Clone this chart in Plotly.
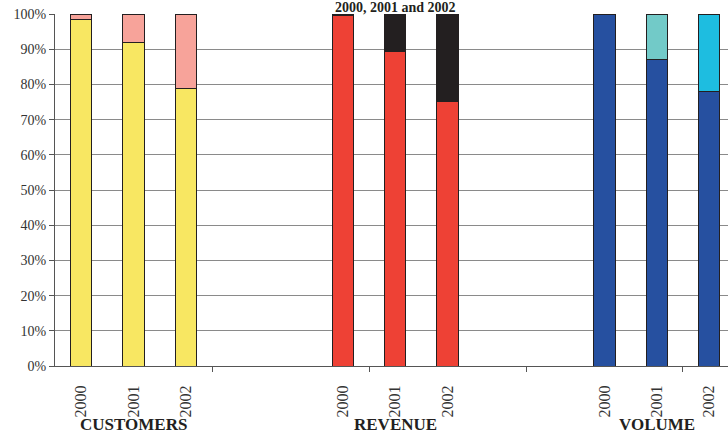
import plotly.graph_objects as go

# Share of each measure, per year (bottom segment of each stacked bar, in %)
years = ["2000", "2001", "2002"]
groups = ["CUSTOMERS", "REVENUE", "VOLUME"]
customers_share = [98.5, 92.0, 78.7]
revenue_share = [99.5, 89.3, 75.2]
volume_share = [100.0, 87.2, 78.1]

base_colors = {"CUSTOMERS": "#F8E762", "REVENUE": "#EE4135", "VOLUME": "#2650A0"}
rest_colors = {
    "CUSTOMERS": ["#F7A39A", "#F7A39A", "#F7A39A"],
    "REVENUE": ["#231F20", "#231F20", "#231F20"],
    "VOLUME": ["#72CAC8", "#72CAC8", "#1EBDE0"],
}

serif = "Liberation Serif, Times New Roman, serif"
shares = {"CUSTOMERS": customers_share, "REVENUE": revenue_share, "VOLUME": volume_share}

# Each group takes 3 slots, followed by 2 empty slots
xs, bottoms, tops, cb, ct, labels = [], [], [], [], [], []
for g, name in enumerate(groups):
    for i, yr in enumerate(years):
        xs.append(g * 5 + i)
        bottoms.append(shares[name][i])
        tops.append(round(100 - shares[name][i], 2))
        cb.append(base_colors[name])
        ct.append(rest_colors[name][i])
        labels.append(yr)

line = dict(color="#231F20", width=1)
fig = go.Figure()
fig.add_trace(go.Bar(x=xs, y=bottoms, width=0.41, marker=dict(color=cb, line=line)))
fig.add_trace(go.Bar(x=xs, y=tops, width=0.41, marker=dict(color=ct, line=line)))

fig.update_layout(
    barmode="stack",
    showlegend=False,
    width=728,
    height=436,
    margin=dict(l=55, r=0, t=14, b=70),
    plot_bgcolor="white",
    paper_bgcolor="white",
    font=dict(family=serif, color="#333333"),
)
fig.update_xaxes(
    range=[-0.5, 12.36],
    tickmode="array",
    tickvals=xs,
    ticktext=labels,
    tickangle=-90,
    ticks="",
    ticklabelstandoff=12,
    tickfont=dict(size=16, family=serif, color="#333333"),
    showgrid=False,
    showline=True,
    linecolor="#555555",
    linewidth=1,
    zeroline=False,
    minor=dict(tickmode="array", tickvals=[2.5, 5.5, 8.5, 11.5], ticks="outside",
               ticklen=5, tickcolor="#555555", showgrid=False),
)
fig.update_yaxes(
    range=[0, 100],
    tickmode="array",
    tickvals=list(range(0, 101, 10)),
    ticktext=[f"{v}%" for v in range(0, 101, 10)],
    ticks="outside",
    ticklen=5,
    tickcolor="#555555",
    tickfont=dict(size=14, family=serif, color="#333333"),
    showgrid=True,
    gridcolor="#8A8A8A",
    gridwidth=1,
    showline=True,
    linecolor="#555555",
    linewidth=1,
    zeroline=False,
)

for g, name in enumerate(groups):
    fig.add_annotation(
        x=g * 5 + 1, y=0, xref="x", yref="paper", yanchor="top", yshift=-47,
        text=f"<b>{name}</b>", showarrow=False,
        font=dict(size=17, family=serif, color="#231F20"),
    )

# Title sits in the narrow band above the plot area
fig.add_annotation(
    x=6, y=1, xref="x", yref="paper", yanchor="top", yshift=15,
    text="<b>2000, 2001 and 2002</b>", showarrow=False, borderpad=0,
    font=dict(size=14, family="Liberation Serif", color="#231F20"),
)

fig.write_html("out.html")
